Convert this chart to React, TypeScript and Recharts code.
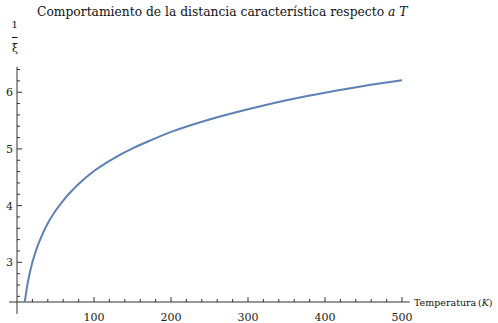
import React from "react";
import { LineChart, Line, XAxis, YAxis, ReferenceLine } from "recharts";

// Temperature samples (K) and the inverse characteristic length 1/ξ
const temperatures = [10, 12, 15, 20, 25, 30, 40, 50, 60, 80, 100, 125, 150, 175, 200, 250, 300, 350, 400, 450, 500];
const inverseXi = [2.30, 2.48, 2.71, 3.0, 3.22, 3.4, 3.69, 3.91, 4.09, 4.38, 4.61, 4.83, 5.01, 5.16, 5.3, 5.52, 5.7, 5.86, 5.99, 6.11, 6.21];

const xMajorTicks = [100, 200, 300, 400, 500];
const yMajorTicks = [3, 4, 5, 6];
const xMinorStep = 20;
const yMinorStep = 0.2;

const X_DOMAIN: [number, number] = [0, 510];
const Y_DOMAIN: [number, number] = [2.3, 6.45];

const data = temperatures.map((t, i) => ({ t, v: inverseXi[i] }));

// Minor tick positions between the axis limits
const xTicks: number[] = [];
for (let i = 1; i * xMinorStep <= X_DOMAIN[1]; i++) xTicks.push(i * xMinorStep);
const yTicks: number[] = [];
for (let i = Math.ceil(Y_DOMAIN[0] / yMinorStep + 1e-9); i * yMinorStep <= Y_DOMAIN[1] + 1e-9; i++) {
  yTicks.push(Math.round(i * yMinorStep * 10) / 10);
}

const FONT = "'DejaVu Serif', serif";
const serif = { fontFamily: FONT };
const AXIS_COLOR = "#333";

const XTick = (props: any) => {
  const { x, y, payload } = props;
  const major = xMajorTicks.includes(payload.value);
  return (
    <g>
      <line x1={x} y1={y} x2={x} y2={y - (major ? 5 : 3)} stroke={AXIS_COLOR} strokeWidth={1} />
      {major && (
        <text x={x} y={y + 18.5} textAnchor="middle" style={serif} fontSize={11} fill="#222">
          {payload.value}
        </text>
      )}
    </g>
  );
};

const YTick = (props: any) => {
  const { x, y, payload } = props;
  const major = yMajorTicks.includes(payload.value);
  return (
    <g>
      <line x1={x} y1={y} x2={x + (major ? 5 : 3)} y2={y} stroke={AXIS_COLOR} strokeWidth={1} />
      {major && (
        <text x={13} y={y + 4} textAnchor="end" style={serif} fontSize={11} fill="#222">
          {payload.value}
        </text>
      )}
    </g>
  );
};

export default function App() {
  return (
    <div style={{ position: "absolute", left: 0, top: 0, width: 498, height: 323, background: "#fff" }}>
      <LineChart
        width={498}
        height={323}
        data={data}
        margin={{ top: 66.7, right: 88.3, bottom: 0, left: 0 }}
      >
        <XAxis
          dataKey="t"
          type="number"
          domain={X_DOMAIN}
          ticks={xTicks}
          interval={0}
          allowDataOverflow
          axisLine={false}
          tickLine={false}
          tickSize={0}
          tickMargin={0}
          height={21}
          tick={<XTick />}
        />
        <YAxis
          type="number"
          domain={Y_DOMAIN}
          ticks={yTicks}
          interval={0}
          allowDataOverflow
          axisLine={false}
          tickLine={false}
          tickSize={0}
          tickMargin={0}
          width={17}
          tick={<YTick />}
        />
        <ReferenceLine
          segment={[{ x: -10.4, y: 2.3 }, { x: 510, y: 2.3 }]}
          stroke={AXIS_COLOR}
          strokeWidth={1}
          ifOverflow="visible"
        />
        <ReferenceLine
          segment={[{ x: 0, y: 2.09 }, { x: 0, y: 6.45 }]}
          stroke={AXIS_COLOR}
          strokeWidth={1}
          ifOverflow="visible"
        />
        <Line
          type="monotone"
          dataKey="v"
          stroke="#5E81B5"
          strokeWidth={2}
          dot={false}
          isAnimationActive={false}
        />
      </LineChart>
      <svg
        width={498}
        height={323}
        style={{ position: "absolute", left: 0, top: 0, pointerEvents: "none", fontFamily: FONT }}
      >
        <text x={37} y={16} fontSize={12.3} fill="#111" style={serif}>
          Comportamiento de la distancia característica respecto <tspan fontStyle="italic">a T</tspan>
        </text>
        <text x={14.8} y={28.3} fontSize={10} textAnchor="middle" fill="#111" style={serif}>1</text>
        <line x1={12} y1={37.5} x2={17.5} y2={37.5} stroke="#111" strokeWidth={1} />
        <text x={15} y={52} fontSize={11} textAnchor="middle" fill="#111" style={serif}>ξ</text>
        <text x={414} y={306} fontSize={9.5} fill="#111" style={serif}>Temperatura</text>
        <text x={478} y={306} fontSize={9.5} fill="#111" style={serif}>
          (<tspan fontStyle="italic">K</tspan>)
        </text>
      </svg>
    </div>
  );
}
